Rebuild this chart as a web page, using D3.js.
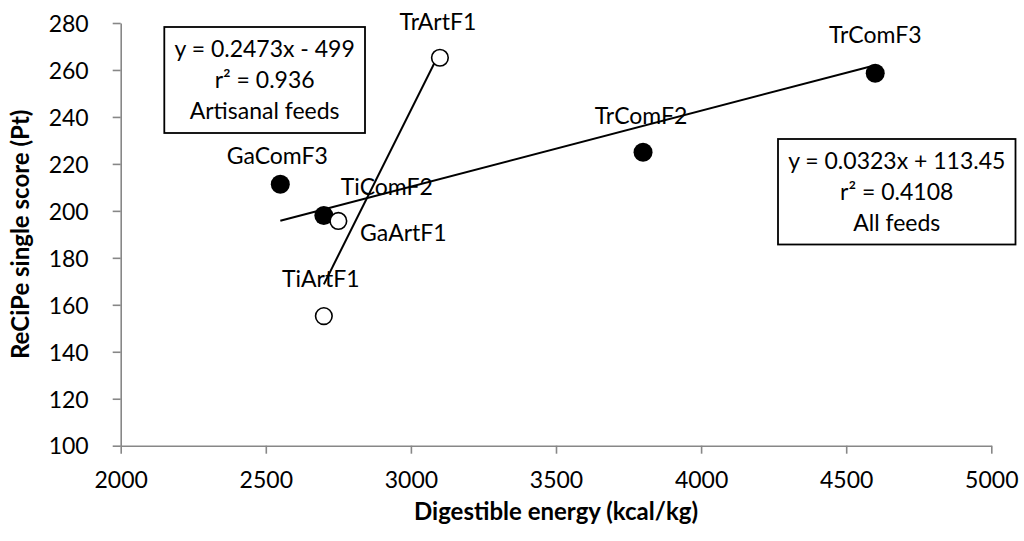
<!DOCTYPE html>
<html>
<head>
<meta charset="utf-8">
<script src="https://cdn.jsdelivr.net/npm/d3@7/dist/d3.min.js"></script>
<style>
  html, body { margin: 0; padding: 0; background: #ffffff; }
  svg { display: block; }
  text { font-family: Lato, "Open Sans", sans-serif; fill: #000; }
</style>
</head>
<body>
<svg id="chart" width="1024" height="541"></svg>
<script>
// ---- Data ----
const commercialNames = ["GaComF3", "TiComF2", "TrComF2", "TrComF3"];
const commercialEnergy = [2550, 2700, 3800, 4600];
const commercialScore = [211.3, 198, 225, 258.6];

const artisanalNames = ["GaArtF1", "TiArtF1", "TrArtF1"];
const artisanalEnergy = [2750, 2700, 3100];
const artisanalScore = [195.7, 155.2, 265.2];

const xTicks = [2000, 2500, 3000, 3500, 4000, 4500, 5000];
const yTicks = [100, 120, 140, 160, 180, 200, 220, 240, 260, 280];

// trendline coefficients (slope, intercept) as printed on the chart
const trendAll = [0.0323, 113.45];
const trendArtisanal = [0.2473, -499];
const boxAllText = ["y = 0.0323x + 113.45", "r\u00B2 = 0.4108", "All feeds"];
const boxArtText = ["y = 0.2473x - 499", "r\u00B2 = 0.936", "Artisanal feeds"];

const xTitle = "Digestible energy (kcal/kg)";
const yTitle = "ReCiPe single score (Pt)";

// ---- Layout (label placement offsets in px, separate from data) ----
const labelOffsets = {
  GaComF3: [-3, -20], TiComF2: [63, -21], TrComF2: [-2, -28], TrComF3: [0, -30],
  GaArtF1: [65, 20], TiArtF1: [-3, -29], TrArtF1: [-2, -28]
};

const svg = d3.select("#chart");
const L = 120.7, R = 991.3, T = 23, B = 445.7;
const FS = 23;
const axisColor = "#878787";

const x = d3.scaleLinear().domain([2000, 5000]).range([L, R]);
const y = d3.scaleLinear().domain([100, 280]).range([B, T]);

// Y axis
const yAxis = svg.append("g").attr("transform", `translate(${L},0)`)
  .call(d3.axisLeft(y).tickValues(yTicks).tickSize(8).tickPadding(24).tickSizeOuter(0));
yAxis.select(".domain").attr("stroke", axisColor).attr("stroke-width", 1.6);
yAxis.selectAll(".tick line").attr("stroke", axisColor).attr("stroke-width", 1.6);
yAxis.selectAll(".tick text").attr("font-size", FS).attr("font-family", "Lato").attr("fill", "#000").attr("dy", "0.36em");

// X axis
const xAxis = svg.append("g").attr("transform", `translate(0,${B})`)
  .call(d3.axisBottom(x).tickValues(xTicks).tickSize(8).tickSizeOuter(0).tickFormat(d3.format("d")));
xAxis.select(".domain").attr("stroke", axisColor).attr("stroke-width", 1.6);
xAxis.selectAll(".tick line").attr("stroke", axisColor).attr("stroke-width", 1.6);
xAxis.selectAll(".tick text").attr("font-size", FS).attr("font-family", "Lato").attr("fill", "#000")
  .attr("y", 42.3).attr("dy", 0);

// Axis titles
svg.append("text").attr("x", (L + R) / 2).attr("y", 520).attr("text-anchor", "middle")
  .attr("font-size", 24).attr("font-weight", "bold").text(xTitle);
svg.append("text").attr("transform", `translate(29,${(T + B) / 2}) rotate(-90)`)
  .attr("text-anchor", "middle").attr("font-size", 24).attr("font-weight", "bold").text(yTitle);

// Data points
const comm = commercialNames.map((n, i) => ({ name: n, x: commercialEnergy[i], y: commercialScore[i] }));
const art = artisanalNames.map((n, i) => ({ name: n, x: artisanalEnergy[i], y: artisanalScore[i] }));
const allPts = comm.concat(art);

// Trendlines
function trend(coef, pts) {
  const ext = d3.extent(pts, d => d.x);
  return ext.map(v => [x(v), y(coef[0] * v + coef[1])]);
}
const line = d3.line();
svg.append("path").attr("d", line(trend(trendAll, allPts)))
  .attr("stroke", "#000").attr("stroke-width", 2).attr("fill", "none");
svg.append("path").attr("d", line(trend(trendArtisanal, art)))
  .attr("stroke", "#000").attr("stroke-width", 2).attr("fill", "none");

svg.append("g").selectAll("circle").data(comm).join("circle")
  .attr("cx", d => x(d.x)).attr("cy", d => y(d.y)).attr("r", 9.5).attr("fill", "#000");
svg.append("g").selectAll("circle").data(art).join("circle")
  .attr("cx", d => x(d.x)).attr("cy", d => y(d.y)).attr("r", 8.3)
  .attr("fill", "#fff").attr("stroke", "#000").attr("stroke-width", 1.6);

// Point labels
svg.append("g").selectAll("text").data(allPts).join("text")
  .attr("x", d => x(d.x) + labelOffsets[d.name][0])
  .attr("y", d => y(d.y) + labelOffsets[d.name][1])
  .attr("text-anchor", "middle").attr("font-size", FS).text(d => d.name);

// Equation boxes
function box(lines, x0, y0, w, h) {
  const g = svg.append("g");
  g.append("rect").attr("x", x0).attr("y", y0).attr("width", w).attr("height", h)
    .attr("fill", "#fff").attr("stroke", "#000").attr("stroke-width", 1.8);
  g.selectAll("text").data(lines).join("text")
    .attr("x", x0 + w / 2).attr("y", (d, i) => y0 + 29.8 + i * 31.3)
    .attr("text-anchor", "middle").attr("font-size", FS).text(d => d);
}
box(boxArtText, 164.3, 27, 200.7, 106);
box(boxAllText, 778, 139, 237.5, 105.5);
</script>
</body>
</html>
